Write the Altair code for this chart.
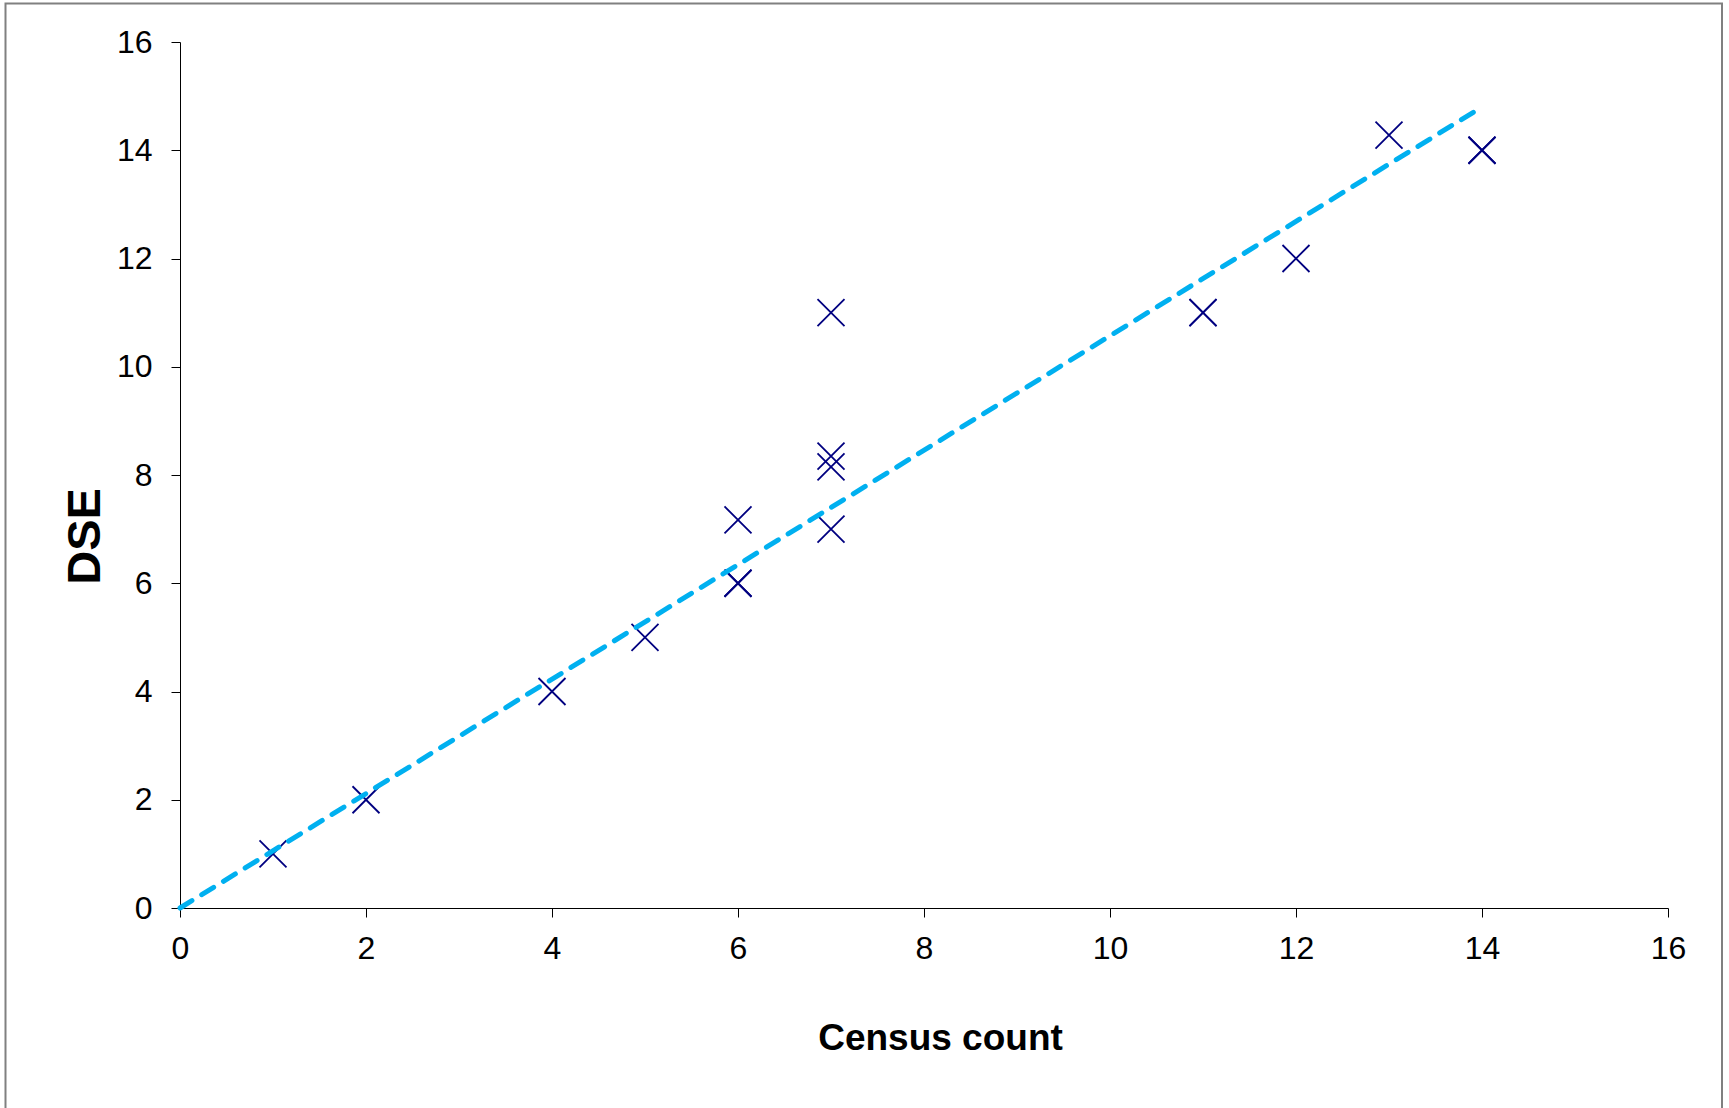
import altair as alt
import pandas as pd

# Data
census = [1, 2, 4, 5, 6, 6, 6, 7, 7, 7, 7, 11, 11, 12, 13, 14, 14]
dse = [1, 2, 4, 5, 6, 6, 7.17, 7, 8.15, 8.35, 11, 11, 11, 12, 14.28, 14, 14]
trend_x = [0, 14]
trend_y = [0, 14.8]
tick_values = [0, 2, 4, 6, 8, 10, 12, 14, 16]

pts = pd.DataFrame({"census": census, "dse": dse})
trend = pd.DataFrame({"census": trend_x, "dse": trend_y})

FONT = "Liberation Sans"
xscale = alt.Scale(domain=[0, 16], nice=False, zero=True)
yscale = alt.Scale(domain=[0, 16], nice=False, zero=True)

x_axis = alt.Axis(
    values=tick_values, title="Census count", grid=False,
    domainColor="black", tickColor="black", tickSize=9, domainWidth=1, tickWidth=1,
    labelFont=FONT, labelFontSize=32, labelColor="black", labelPadding=16,
    titleFont=FONT, titleFontSize=37, titleFontWeight="bold", titleColor="black",
    titleX=760, titleY=141, titleBaseline="alphabetic", titleAlign="center",
    labelFlush=False,
)
y_axis = alt.Axis(
    values=tick_values, title="DSE", grid=False,
    domainColor="black", tickColor="black", tickSize=9, domainWidth=1, tickWidth=1,
    labelFont=FONT, labelFontSize=32, labelColor="black", labelPadding=19,
    titleFont=FONT, titleFontSize=47, titleFontWeight="bold", titleColor="black",
    titleX=-81, titleY=494, titleAngle=270, titleBaseline="alphabetic", titleAlign="center",
    labelFlush=False,
)

border = alt.Chart(alt.Data(values=[{}])).mark_rect(
    fill="white", fillOpacity=0, stroke="#808080", strokeWidth=2
).encode(
    x=alt.value(-174.5), x2=alt.value(1542), y=alt.value(-38.5), y2=alt.value(1100)
)

points = alt.Chart(pts).mark_point(
    shape="M-1,-1L1,1M-1,1L1,-1", size=729, filled=False,
    color="#000080", strokeWidth=1.8, opacity=1
).encode(
    x=alt.X("census:Q", scale=xscale, axis=x_axis),
    y=alt.Y("dse:Q", scale=yscale, axis=y_axis),
)

line = alt.Chart(trend).mark_line(
    color="#00B0F0", strokeWidth=5, strokeDash=[14, 11.5], strokeCap="round"
).encode(
    x=alt.X("census:Q", scale=xscale, axis=x_axis),
    y=alt.Y("dse:Q", scale=yscale, axis=y_axis),
)

chart = alt.layer(border, points, line).properties(
    width=1488, height=866,
    autosize=alt.AutoSizeParams(type="none"),
    padding={"left": 180, "top": 42, "right": 61, "bottom": 200},
    background="white",
).configure_view(stroke=None)

chart.save("out.html", embed_options={"renderer": "svg", "actions": False})
